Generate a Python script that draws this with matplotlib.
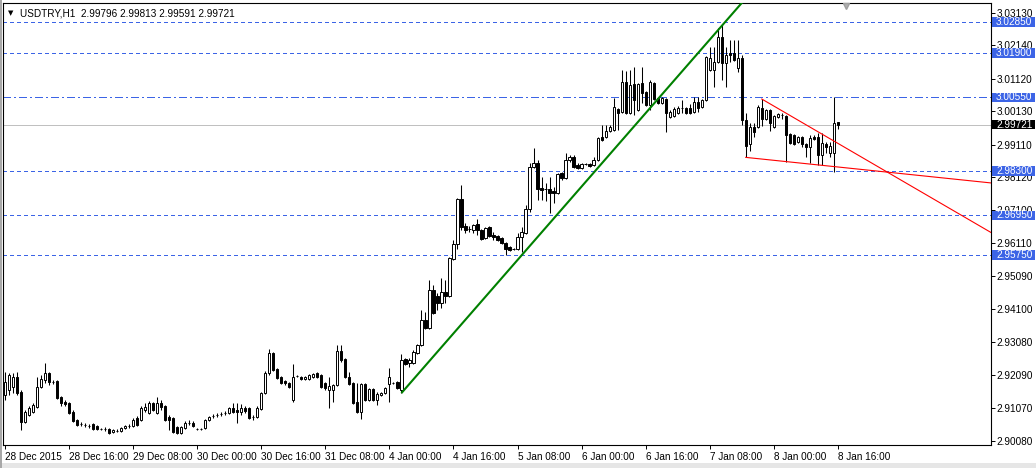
import matplotlib
matplotlib.use("Agg")
import matplotlib.pyplot as plt
from matplotlib.patches import Rectangle
import numpy as np

# USDTRY H1, one value per hourly bar (28 Dec 2015 00:00 .. 8 Jan 2016 16:00)
opens = [
    2.9147, 2.9162, 2.9172, 2.9202, 2.9156, 2.9065, 2.9086, 2.9095, 2.9111, 2.9172, 2.9193, 2.9214,
    2.9187, 2.9190, 2.9141, 2.9126, 2.9123, 2.9095, 2.9071, 2.9059, 2.9056, 2.9053, 2.9059, 2.9053,
    2.9044, 2.9044, 2.9044, 2.9034, 2.9037, 2.9037, 2.9047, 2.9053, 2.9053, 2.9077, 2.9071, 2.9102,
    2.9092, 2.9123, 2.9092, 2.9123, 2.9114, 2.9080, 2.9077, 2.9050, 2.9031, 2.9047, 2.9062, 2.9062,
    2.9044, 2.9044, 2.9047, 2.9071, 2.9083, 2.9086, 2.9089, 2.9092, 2.9092, 2.9108, 2.9102, 2.9095,
    2.9108, 2.9108, 2.9080, 2.9080, 2.9105, 2.9153, 2.9214, 2.9275, 2.9227, 2.9202, 2.9190, 2.9184,
    2.9132, 2.9205, 2.9202, 2.9196, 2.9196, 2.9202, 2.9214, 2.9208, 2.9184, 2.9162, 2.9162, 2.9178,
    2.9281, 2.9257, 2.9202, 2.9184, 2.9126, 2.9095, 2.9181, 2.9132, 2.9166, 2.9132, 2.9147, 2.9153,
    2.9181, 2.9184, 2.9187, 2.9162, 2.9257, 2.9245, 2.9245, 2.9275, 2.9300, 2.9376, 2.9352, 2.9467,
    2.9449, 2.9428, 2.9461, 2.9449, 2.9562, 2.9608, 2.9745, 2.9663, 2.9654, 2.9650, 2.9669, 2.9650,
    2.9626, 2.9660, 2.9635, 2.9632, 2.9626, 2.9611, 2.9599, 2.9593, 2.9593, 2.9629, 2.9641, 2.9715,
    2.9843, 2.9855, 2.9779, 2.9776, 2.9776, 2.9769, 2.9763, 2.9824, 2.9809, 2.9864, 2.9873, 2.9849,
    2.9840, 2.9852, 2.9852, 2.9849, 2.9864, 2.9934, 2.9934, 2.9952, 2.9956, 3.0020, 3.0010, 3.0102,
    3.0007, 3.0096, 3.0017, 3.0099, 3.0071, 3.0032, 3.0099, 3.0053, 3.0038, 3.0050, 2.9995, 2.9998,
    3.0007, 3.0023, 3.0023, 3.0023, 3.0010, 3.0041, 3.0026, 3.0047, 3.0139, 3.0139, 3.0163, 3.0239,
    3.0160, 3.0190, 3.0190, 3.0145, 3.0175, 2.9986, 2.9913, 2.9965, 2.9965, 3.0023, 2.9989, 3.0017,
    2.9965, 2.9995, 3.0001, 2.9998, 2.9943, 2.9940, 2.9919, 2.9934, 2.9913, 2.9904, 2.9934, 2.9934,
    2.9879, 2.9913, 2.9885, 2.9885, 2.99796,
]
highs = [
    2.9217, 2.9214, 2.9214, 2.9217, 2.9162, 2.9102, 2.9114, 2.9123, 2.9202, 2.9208, 2.9245, 2.9217,
    2.9193, 2.9193, 2.9144, 2.9132, 2.9126, 2.9102, 2.9074, 2.9065, 2.9062, 2.9059, 2.9062, 2.9056,
    2.9047, 2.9050, 2.9047, 2.9044, 2.9044, 2.9050, 2.9056, 2.9059, 2.9077, 2.9083, 2.9114, 2.9123,
    2.9129, 2.9126, 2.9141, 2.9132, 2.9117, 2.9086, 2.9080, 2.9053, 2.9053, 2.9068, 2.9071, 2.9068,
    2.9047, 2.9047, 2.9074, 2.9083, 2.9089, 2.9092, 2.9095, 2.9098, 2.9111, 2.9123, 2.9123, 2.9120,
    2.9114, 2.9111, 2.9086, 2.9114, 2.9156, 2.9220, 2.9288, 2.9278, 2.9230, 2.9205, 2.9193, 2.9187,
    2.9242, 2.9208, 2.9205, 2.9205, 2.9211, 2.9214, 2.9217, 2.9211, 2.9187, 2.9202, 2.9181, 2.9300,
    2.9300, 2.9260, 2.9217, 2.9187, 2.9184, 2.9184, 2.9184, 2.9169, 2.9169, 2.9156, 2.9156, 2.9172,
    2.9230, 2.9187, 2.9190, 2.9272, 2.9260, 2.9260, 2.9284, 2.9303, 2.9406, 2.9400, 2.9498, 2.9483,
    2.9458, 2.9504, 2.9498, 2.9568, 2.9620, 2.9748, 2.9788, 2.9672, 2.9663, 2.9669, 2.9684, 2.9654,
    2.9660, 2.9663, 2.9644, 2.9635, 2.9629, 2.9614, 2.9602, 2.9596, 2.9641, 2.9660, 2.9727, 2.9855,
    2.9901, 2.9864, 2.9812, 2.9794, 2.9812, 2.9782, 2.9824, 2.9827, 2.9885, 2.9879, 2.9879, 2.9855,
    2.9855, 2.9855, 2.9855, 2.9873, 2.9934, 2.9971, 2.9971, 2.9971, 3.0053, 3.0023, 3.0138, 3.0135,
    3.0139, 3.0148, 3.0099, 3.0148, 3.0074, 3.0108, 3.0102, 3.0056, 3.0056, 3.0053, 3.0017, 3.0026,
    3.0029, 3.0047, 3.0026, 3.0035, 3.0056, 3.0056, 3.0050, 3.0181, 3.0209, 3.0209, 3.0267, 3.0276,
    3.0209, 3.0230, 3.0230, 3.0230, 3.0184, 3.0007, 2.9977, 2.9977, 3.0032, 3.0050, 3.0020, 3.0020,
    3.0001, 3.0007, 3.0007, 3.0001, 2.9946, 2.9943, 2.9937, 2.9937, 2.9916, 2.9940, 2.9940, 2.9946,
    2.9946, 2.9919, 2.9919, 3.0056, 2.99813,
]
lows = [
    2.9132, 2.9147, 2.9153, 2.9147, 2.9041, 2.9062, 2.9083, 2.9092, 2.9108, 2.9169, 2.9184, 2.9178,
    2.9181, 2.9135, 2.9114, 2.9114, 2.9089, 2.9065, 2.9053, 2.9053, 2.9050, 2.9047, 2.9041, 2.9041,
    2.9041, 2.9037, 2.9028, 2.9031, 2.9034, 2.9034, 2.9044, 2.9047, 2.9050, 2.9053, 2.9068, 2.9095,
    2.9089, 2.9098, 2.9089, 2.9102, 2.9068, 2.9041, 2.9031, 2.9028, 2.9028, 2.9044, 2.9056, 2.9050,
    2.9041, 2.9041, 2.9044, 2.9068, 2.9077, 2.9080, 2.9083, 2.9086, 2.9089, 2.9092, 2.9062, 2.9086,
    2.9092, 2.9074, 2.9071, 2.9077, 2.9102, 2.9150, 2.9208, 2.9220, 2.9196, 2.9181, 2.9178, 2.9169,
    2.9126, 2.9202, 2.9193, 2.9193, 2.9193, 2.9199, 2.9199, 2.9169, 2.9162, 2.9108, 2.9126, 2.9175,
    2.9248, 2.9199, 2.9178, 2.9120, 2.9092, 2.9074, 2.9129, 2.9129, 2.9129, 2.9117, 2.9144, 2.9150,
    2.9126, 2.9181, 2.9166, 2.9153, 2.9239, 2.9233, 2.9242, 2.9272, 2.9297, 2.9349, 2.9349, 2.9394,
    2.9406, 2.9413, 2.9428, 2.9446, 2.9559, 2.9593, 2.9650, 2.9641, 2.9644, 2.9641, 2.9635, 2.9620,
    2.9623, 2.9629, 2.9620, 2.9617, 2.9608, 2.9574, 2.9586, 2.9589, 2.9589, 2.9583, 2.9638, 2.9705,
    2.9840, 2.9742, 2.9742, 2.9739, 2.9702, 2.9733, 2.9760, 2.9803, 2.9806, 2.9858, 2.9840, 2.9837,
    2.9837, 2.9849, 2.9843, 2.9846, 2.9861, 2.9922, 2.9931, 2.9949, 2.9952, 2.9956, 3.0007, 3.0004,
    3.0004, 3.0001, 3.0013, 3.0038, 3.0029, 3.0017, 3.0047, 3.0035, 3.0035, 2.9949, 2.9992, 2.9995,
    3.0004, 3.0007, 3.0004, 3.0004, 3.0007, 3.0010, 3.0023, 3.0044, 3.0135, 3.0087, 3.0160, 3.0108,
    3.0087, 3.0163, 3.0166, 3.0132, 2.9971, 2.9873, 2.9891, 2.9934, 2.9962, 2.9968, 2.9986, 2.9952,
    2.9962, 2.9992, 2.9989, 2.9858, 2.9913, 2.9910, 2.9916, 2.9904, 2.9873, 2.9855, 2.9925, 2.9849,
    2.9849, 2.9885, 2.9873, 2.9827, 2.99591,
]
closes = [
    2.9187, 2.9208, 2.9202, 2.9153, 2.9065, 2.9095, 2.9108, 2.9117, 2.9172, 2.9196, 2.9214, 2.9187,
    2.9186, 2.9138, 2.9123, 2.9120, 2.9092, 2.9068, 2.9056, 2.9058, 2.9055, 2.9052, 2.9044, 2.9044,
    2.9043, 2.9045, 2.9031, 2.9041, 2.9038, 2.9047, 2.9053, 2.9054, 2.9071, 2.9056, 2.9108, 2.9111,
    2.9123, 2.9102, 2.9123, 2.9111, 2.9071, 2.9071, 2.9034, 2.9031, 2.9050, 2.9062, 2.9061, 2.9053,
    2.9043, 2.9045, 2.9071, 2.9080, 2.9084, 2.9087, 2.9090, 2.9093, 2.9108, 2.9095, 2.9095, 2.9108,
    2.9098, 2.9077, 2.9079, 2.9108, 2.9153, 2.9214, 2.9275, 2.9224, 2.9199, 2.9184, 2.9184, 2.9172,
    2.9202, 2.9204, 2.9196, 2.9202, 2.9208, 2.9211, 2.9202, 2.9172, 2.9169, 2.9175, 2.9178, 2.9281,
    2.9254, 2.9202, 2.9181, 2.9123, 2.9095, 2.9181, 2.9132, 2.9166, 2.9132, 2.9150, 2.9153, 2.9169,
    2.9202, 2.9183, 2.9169, 2.9254, 2.9242, 2.9254, 2.9278, 2.9300, 2.9376, 2.9352, 2.9467, 2.9397,
    2.9428, 2.9461, 2.9449, 2.9565, 2.9608, 2.9745, 2.9660, 2.9650, 2.9653, 2.9666, 2.9650, 2.9623,
    2.9657, 2.9632, 2.9629, 2.9620, 2.9611, 2.9593, 2.9589, 2.9592, 2.9629, 2.9644, 2.9715, 2.9843,
    2.9855, 2.9776, 2.9772, 2.9775, 2.9763, 2.9763, 2.9821, 2.9809, 2.9864, 2.9873, 2.9843, 2.9840,
    2.9852, 2.9851, 2.9846, 2.9864, 2.9931, 2.9925, 2.9952, 2.9965, 3.0026, 3.0007, 3.0102, 3.0007,
    3.0093, 3.0047, 3.0096, 3.0068, 3.0032, 3.0102, 3.0050, 3.0038, 3.0053, 3.0007, 3.0010, 3.0020,
    3.0023, 3.0022, 3.0007, 3.0007, 3.0041, 3.0023, 3.0047, 3.0178, 3.0175, 3.0163, 3.0239, 3.0160,
    3.0184, 3.0184, 3.0169, 3.0175, 2.9986, 2.9907, 2.9965, 2.9949, 3.0026, 2.9989, 3.0017, 2.9977,
    2.9998, 3.0004, 3.0000, 2.9940, 2.9916, 2.9913, 2.9934, 2.9913, 2.9904, 2.9931, 2.9928, 2.9879,
    2.9916, 2.9904, 2.9907, 2.9977, 2.99721,
]

time_labels = ["28 Dec 2015", "28 Dec 16:00", "29 Dec 08:00", "30 Dec 00:00", "30 Dec 16:00",
               "31 Dec 08:00", "4 Jan 00:00", "4 Jan 16:00", "5 Jan 08:00", "6 Jan 00:00",
               "6 Jan 16:00", "7 Jan 08:00", "8 Jan 00:00", "8 Jan 16:00"]
bars_per_label = 16

price_ticks = [3.0313, 3.0214, 3.0112, 3.0013, 2.9911, 2.9812, 2.9710, 2.9611,
               2.9509, 2.9410, 2.9308, 2.9209, 2.9107, 2.9008]
dashed_levels = [3.02850, 3.01900, 2.98300, 2.96950, 2.95750]
dashdot_level = 3.00550
last_price = 2.99721

# trendlines: two anchor points (bar, price), drawn as rays
green_line = [(99, 2.9153), (152, 2.9895)]
red_upper = [(189, 3.0050), (207, 2.9922)]
red_lower = [(185, 2.9872), (207, 2.9844)]

title = "USDTRY,H1  2.99796 2.99813 2.99591 2.99721"

W, H = 1036, 468
FONT = "Liberation Sans"
BLUE = "#3C64E6"

fig = plt.figure(figsize=(W / 100, H / 100), dpi=100)
fig.patch.set_facecolor("white")
ax = fig.add_axes([3 / W, 1 - 445 / H, 988 / W, 442 / H])
ax.set_xlim(-0.5, 246.25)
ax.set_ylim(2.89947, 3.03429)

o = np.array(opens)
h = np.array(highs)
l = np.array(lows)
c = np.array(closes)
x = np.arange(len(c))
up = c >= o

# levels (crisp 1px lines like the terminal)
ax.axhline(last_price, color="#C0C0C0", lw=0.7, zorder=1, antialiased=False)
for lv in dashed_levels:
    ax.axhline(lv, color=BLUE, lw=0.7, dashes=(3.1, 3.1), zorder=1, antialiased=False)
ax.axhline(dashdot_level, color=BLUE, lw=0.7, dashes=(8.2, 3.1, 2.0, 3.1), zorder=1,
           antialiased=False)

# candles
ax.vlines(x, l, h, color="black", lw=0.75, zorder=3)
body_h = np.maximum(np.abs(c - o), 0.00002)
body_b = np.minimum(o, c)
ax.bar(x, body_h, bottom=body_b, width=0.55,
       color=np.where(up, "white", "black"), edgecolor="black", lw=0.7, zorder=4)


def ray(pts, x_end):
    (x0, y0), (x1, y1) = pts
    k = (y1 - y0) / (x1 - x0)
    return [x0, x_end], [y0, y0 + k * (x_end - x0)]


gx, gy = ray(green_line, 230)
ax.plot(gx, gy, color="#008000", lw=1.5, zorder=5, solid_capstyle="butt")
for pts in (red_upper, red_lower):
    rx, ry = ray(pts, 260)
    ax.plot(rx, ry, color="red", lw=0.8, zorder=5)

# axes look
for s in ax.spines.values():
    s.set_color("black")
    s.set_linewidth(0.8)
ax.yaxis.tick_right()
ax.set_yticks(price_ticks)
ax.set_yticklabels(["%.5f" % p for p in price_ticks], fontsize=7.2, family=FONT)
ax.tick_params(axis="y", direction="out", length=3, width=0.7, pad=1)

xt = np.arange(len(time_labels)) * bars_per_label
ax.set_xticks(xt)
ax.set_xticklabels(time_labels, fontsize=7.2, family=FONT, ha="left")
ax.tick_params(axis="x", direction="out", length=3, width=0.7, pad=2)

# price boxes on the right scale
ytr = ax.get_yaxis_transform()
bx0 = (992 - 3) / 988
bw = 43 / 988
bh = 9.5 * (ax.get_ylim()[1] - ax.get_ylim()[0]) / 442
boxes = [(lv, BLUE) for lv in dashed_levels] + [(dashdot_level, BLUE), (last_price, "black")]
for lv, col in boxes:
    ax.add_patch(Rectangle((bx0, lv - bh / 2), bw, bh, transform=ytr, facecolor=col,
                           edgecolor="none", clip_on=False, zorder=6))
    ax.text(bx0 + 4 / 988, lv, "%.5f" % lv, transform=ytr, color="white", fontsize=7.2,
            family=FONT, va="center", ha="left", clip_on=False, zorder=7)

# header
fig.text(8 / W, 1 - 13 / H, "\u25BC", fontsize=5, family="DejaVu Sans", va="center", ha="left")
fig.text(20 / W, 1 - 13 / H, title, fontsize=7.2, family=FONT, va="center", ha="left")

# chart shift marker
ax.plot([210.0], [3.0335], marker="v", ms=5, color="#B0B0B0", mec="#A0A0A0",
        clip_on=False, zorder=6)

# grey frame around the window
fig.patches.append(Rectangle((0, 0), 1, 5 / H, transform=fig.transFigure,
                             facecolor="#E6E6E6", edgecolor="none", zorder=0))
fig.patches.append(Rectangle((0, 0), 2 / W, 1, transform=fig.transFigure,
                             facecolor="#A8A8A8", edgecolor="none", zorder=0))

fig.savefig("out.png", dpi=100)
